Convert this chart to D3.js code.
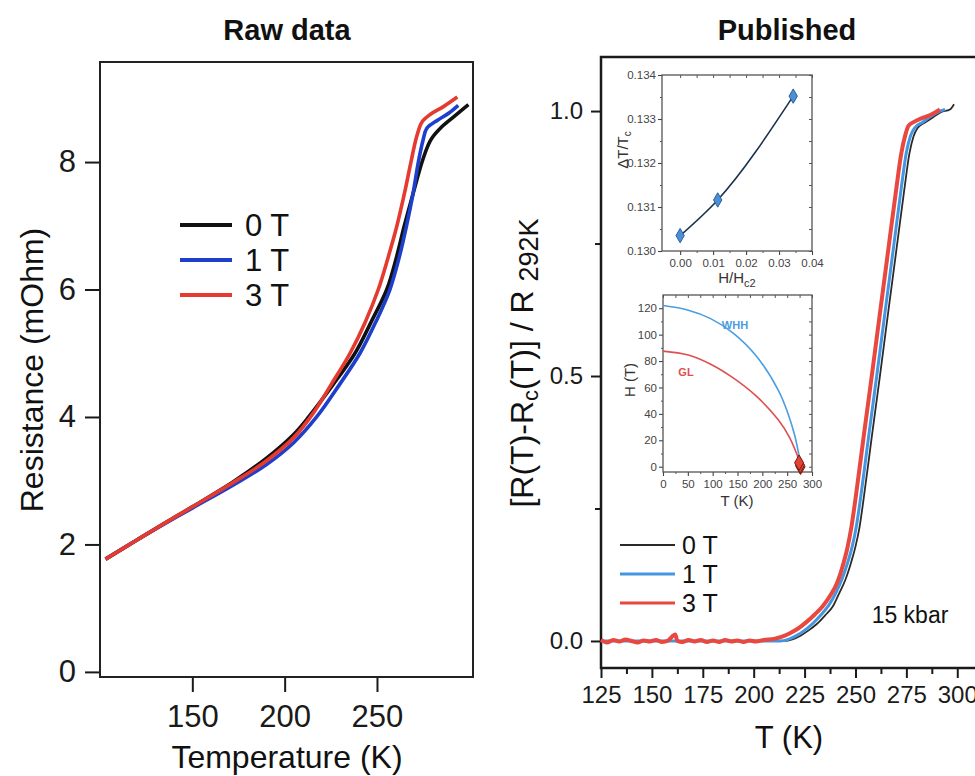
<!DOCTYPE html>
<html>
<head>
<meta charset="utf-8">
<script src="https://cdn.jsdelivr.net/npm/d3@7"></script>
<style>
  html, body { margin: 0; padding: 0; background: #fff; }
  svg { display: block; font-family: "Liberation Sans", Arial, Helvetica, sans-serif; }
</style>
</head>
<body>
<svg id="chart" width="975" height="776"></svg>
<script>
// ─────────────────────────────────────────
// Raw data vs Published: R(T) at 0 / 1 / 3 T
// ─────────────────────────────────────────

// left panel: resistance (mOhm) vs temperature (K)
const raw0T = [[103,1.77],[120,2.07],[136,2.35],[150,2.59],[172,2.98],[190,3.35],[205,3.73],[213,4.0],[226,4.5],[238.1,5.0],[247,5.5],[255.3,6.0],[260.5,6.5],[264.8,7.0],[269.5,7.5],[274.4,8.0],[277.5,8.25],[279.6,8.37],[285,8.55],[292,8.72],[299.5,8.9]];
const raw1T = [[103,1.77],[120,2.07],[136,2.34],[150,2.57],[172,2.93],[190,3.25],[205,3.6],[217.3,4.0],[229.5,4.5],[240.8,5.0],[249.5,5.5],[257,6.0],[262,6.5],[266,7.0],[269.5,7.5],[272.4,8.0],[275,8.35],[277,8.53],[283,8.66],[289,8.77],[294,8.89]];
const raw3T = [[103,1.77],[120,2.07],[136,2.35],[150,2.59],[172,2.97],[190,3.31],[205,3.68],[215.5,4.06],[225,4.5],[235.4,5.0],[243.5,5.48],[250.7,6.0],[256,6.5],[260.8,7.0],[264.8,7.5],[268.4,8.0],[271.5,8.4],[274.4,8.63],[279,8.75],[286,8.87],[293.5,9.02]];
const rawTicksX = [150, 200, 250];
const rawTicksY = [0, 2, 4, 6, 8];

// right panel: normalised resistance vs T (K)
const pub0T = [[125,0],[150,0],[175,0],[200,0],[215,0],[219,0.003],[223,0.01],[227,0.02],[231,0.032],[235,0.048],[239,0.066],[242,0.09],[245,0.115],[248,0.15],[250,0.178],[252,0.215],[254,0.268],[258,0.385],[262,0.5],[266,0.618],[270,0.735],[274,0.852],[276.5,0.92],[278.5,0.952],[280.5,0.968],[284,0.978],[288,0.988],[292,0.998],[296.4,1.003],[298.4,1.013]];
const pub1T = [[125,0],[150,0],[175,0],[200,0],[213,0],[217,0.003],[221,0.01],[225,0.02],[229,0.033],[233,0.049],[237,0.068],[240.5,0.092],[243.5,0.118],[246.5,0.152],[248.5,0.18],[250.5,0.218],[252.5,0.27],[256.5,0.387],[260.5,0.502],[264.5,0.62],[268.5,0.737],[272.5,0.855],[275,0.922],[277,0.953],[279,0.968],[283,0.979],[287,0.99],[291,0.999],[294,1.003]];
const pub3T = [[125,0.002],[128,-0.003],[131,0.002],[134,-0.001],[137,0.003],[140,0],[143,-0.003],[146,0.001],[149,-0.001],[152,0.002],[155,-0.002],[158,0.001],[161.5,0.012],[162.5,0],[165,-0.002],[168,0.002],[171,-0.001],[174,0.002],[177,-0.002],[180,0.001],[183,-0.002],[186,0.002],[189,-0.001],[192,0.001],[195,-0.002],[198,0.001],[201,-0.001],[205,0.002],[210,0.004],[214,0.008],[218,0.015],[222,0.024],[226,0.036],[230,0.05],[234,0.066],[238,0.088],[241,0.11],[244,0.145],[246,0.175],[248,0.215],[250,0.268],[254,0.385],[258,0.5],[262,0.618],[266,0.735],[270,0.852],[272.5,0.92],[274.5,0.955],[276,0.972],[279,0.98],[283,0.987],[287,0.993],[291.5,1.003]];
const pubTicksX = [125, 150, 175, 200, 225, 250, 275, 300];
const pubMinorX = [137.5, 162.5, 187.5, 212.5, 237.5, 262.5, 287.5];
const pubTicksY = [0, 0.5, 1.0];
const pubMinorY = [0.25, 0.75];

// inset 1: ΔT/Tc vs H/Hc2
const widthPts = [[0, 0.13035], [0.0114, 0.13116], [0.0343, 0.13352]];
const in1TicksX = [0, 0.01, 0.02, 0.03, 0.04];
const in1TicksY = [0.130, 0.131, 0.132, 0.133, 0.134];

// inset 2: Hc2 (T) vs T (K)
const whh = [[0,122],[51,118.5],[95,112.3],[142,101],[189,83.3],[232,58],[250,42],[265,24],[276,4]];
const gl = [[0,87.5],[51,84.5],[95,77.7],[142,67],[189,53],[232,35.5],[255,22],[276,3]];
const hc2Pts = [[277,0],[276,1],[274,3]];
const in2TicksX = [0, 50, 100, 150, 200, 250, 300];
const in2TicksY = [0, 20, 40, 60, 80, 100, 120];

const fields = ['0 T', '1 T', '3 T'];
const rawColors = ['#111111', '#1d3fcc', '#e53a2f'];
const pubColors = ['#2a2a2a', '#4596e0', '#e8483f'];

const svg = d3.select('#chart');

// small helper: style an axis group
function styleAxis(g, size, color, width) {
  g.select('.domain').remove();
  g.selectAll('line').attr('stroke', color).attr('stroke-width', width);
  g.selectAll('text').attr('font-size', size).attr('fill', color);
}

// ── Left panel ──────────────────────────
const xL = d3.scaleLinear().domain([100, 302]).range([100, 473]);
const yL = d3.scaleLinear().domain([-0.08, 9.57]).range([677, 62]);

svg.append('text').attr('x', 287).attr('y', 40).attr('text-anchor', 'middle')
  .attr('font-size', 29).attr('font-weight', 'bold').attr('fill', '#111').text('Raw data');

svg.append('g').attr('transform', 'translate(0,677)')
  .call(d3.axisBottom(xL).tickValues(rawTicksX).tickSize(15).tickSizeOuter(0).tickPadding(13))
  .call(g => styleAxis(g, 31, '#1a1a1a', 2));

svg.append('g').attr('transform', 'translate(100,0)')
  .call(d3.axisLeft(yL).tickValues(rawTicksY).tickSize(15).tickSizeOuter(0).tickPadding(9))
  .call(g => styleAxis(g, 31, '#1a1a1a', 2));

svg.append('rect').attr('x', 100).attr('y', 62).attr('width', 373).attr('height', 615)
  .attr('fill', 'none').attr('stroke', '#222').attr('stroke-width', 2);

const lineL = d3.line().x(d => xL(d[0])).y(d => yL(d[1])).curve(d3.curveCatmullRom.alpha(0.5));
[raw0T, raw1T, raw3T].forEach((s, i) => {
  svg.append('path').datum(s).attr('d', lineL).attr('fill', 'none')
    .attr('stroke', rawColors[i]).attr('stroke-width', 3.6).attr('stroke-linejoin', 'round');
});

// legend
fields.forEach((f, i) => {
  const y = 225 + i * 35;
  svg.append('line').attr('x1', 180).attr('x2', 232).attr('y1', y).attr('y2', y)
    .attr('stroke', rawColors[i]).attr('stroke-width', 4);
  svg.append('text').attr('x', 245).attr('y', y + 11).attr('font-size', 31).attr('fill', '#111').text(f);
});

svg.append('text').attr('x', 287).attr('y', 768).attr('text-anchor', 'middle')
  .attr('font-size', 32).attr('fill', '#111').text('Temperature (K)');
svg.append('text').attr('transform', 'translate(43,370) rotate(-90)').attr('text-anchor', 'middle')
  .attr('font-size', 32).attr('fill', '#111').text('Resistance (mOhm)');

// ── Right panel ─────────────────────────
const xR = d3.scaleLinear().domain([125, 312]).range([601, 981.7]);
const yR = d3.scaleLinear().domain([-0.051, 1.102]).range([668, 57]);

svg.append('text').attr('x', 787).attr('y', 40).attr('text-anchor', 'middle')
  .attr('font-size', 29).attr('font-weight', 'bold').attr('fill', '#111').text('Published');

svg.append('g').attr('transform', 'translate(0,668)')
  .call(d3.axisBottom(xR).tickValues(pubTicksX).tickSize(10).tickSizeOuter(0).tickPadding(8))
  .call(g => styleAxis(g, 24, '#1a1a1a', 2));
svg.append('g').attr('transform', 'translate(0,668)')
  .call(d3.axisBottom(xR).tickValues(pubMinorX).tickSize(6).tickFormat(''))
  .call(g => styleAxis(g, 24, '#1a1a1a', 2));

svg.append('g').attr('transform', 'translate(601,0)')
  .call(d3.axisLeft(yR).tickValues(pubTicksY).tickSize(10).tickSizeOuter(0).tickPadding(8).tickFormat(d3.format('.1f')))
  .call(g => styleAxis(g, 24, '#1a1a1a', 2));
svg.append('g').attr('transform', 'translate(601,0)')
  .call(d3.axisLeft(yR).tickValues(pubMinorY).tickSize(6).tickFormat(''))
  .call(g => styleAxis(g, 24, '#1a1a1a', 2));

svg.append('rect').attr('x', 601).attr('y', 57).attr('width', 400).attr('height', 611)
  .attr('fill', 'none').attr('stroke', '#1a1a1a').attr('stroke-width', 2.5);

const lineR = d3.line().x(d => xR(d[0])).y(d => yR(d[1])).curve(d3.curveMonotoneX);
const pubWidths = [1.8, 3, 4];
[pub0T, pub1T, pub3T].forEach((s, i) => {
  svg.append('path').datum(s).attr('d', lineR).attr('fill', 'none')
    .attr('stroke', pubColors[i]).attr('stroke-width', pubWidths[i]).attr('stroke-linejoin', 'round');
});

fields.forEach((f, i) => {
  const y = 545 + i * 29;
  svg.append('line').attr('x1', 620).attr('x2', 675).attr('y1', y).attr('y2', y)
    .attr('stroke', pubColors[i]).attr('stroke-width', i === 0 ? 2 : 3);
  svg.append('text').attr('x', 682).attr('y', y + 9).attr('font-size', 25).attr('fill', '#111').text(f);
});

svg.append('text').attr('x', 910).attr('y', 623).attr('text-anchor', 'middle')
  .attr('font-size', 23).attr('fill', '#111').text('15 kbar');

svg.append('text').attr('x', 789).attr('y', 748).attr('text-anchor', 'middle')
  .attr('font-size', 31).attr('fill', '#111').text('T (K)');

const yLab = svg.append('text').attr('transform', 'translate(533,363) rotate(-90)')
  .attr('text-anchor', 'middle').attr('font-size', 32).attr('fill', '#111');
yLab.append('tspan').text('[R(T)-R');
yLab.append('tspan').attr('font-size', 22).attr('dy', 5).text('c');
yLab.append('tspan').attr('dy', -5).text('(T)] / R ');
yLab.append('tspan').attr('font-size', 27).attr('dy', 5).text('292K');

// ── Inset frames / ticks ────────────────
function insetAxes(x, y, tx, ty, mx, my, fmtX, fmtY) {
  const [x0, x1] = x.range(), [y0, y1] = y.range();
  const grey = '#555';
  svg.append('g').attr('transform', `translate(0,${y0})`)
    .call(d3.axisBottom(x).tickValues(tx).tickSize(4).tickPadding(4).tickFormat(fmtX))
    .call(g => styleAxis(g, 11.5, '#444', 1.1));
  svg.append('g').attr('transform', `translate(0,${y0})`)
    .call(d3.axisBottom(x).tickValues(mx).tickSize(2).tickFormat(''))
    .call(g => styleAxis(g, 11.5, grey, 1));
  svg.append('g').attr('transform', `translate(${x0},0)`)
    .call(d3.axisLeft(y).tickValues(ty).tickSize(4).tickPadding(2).tickFormat(fmtY))
    .call(g => styleAxis(g, 11.5, '#444', 1.1));
  svg.append('g').attr('transform', `translate(${x0},0)`)
    .call(d3.axisLeft(y).tickValues(my).tickSize(2).tickFormat(''))
    .call(g => styleAxis(g, 11.5, grey, 1));
  // mirrored inward ticks on top and right
  svg.append('g').attr('transform', `translate(0,${y1})`)
    .call(d3.axisBottom(x).tickValues(tx.concat(mx)).tickSize(3).tickFormat(''))
    .call(g => styleAxis(g, 11.5, grey, 1));
  svg.append('g').attr('transform', `translate(${x1},0)`)
    .call(d3.axisLeft(y).tickValues(ty.concat(my)).tickSize(3).tickFormat(''))
    .call(g => styleAxis(g, 11.5, grey, 1));
  svg.append('rect').attr('x', x0).attr('y', y1).attr('width', x1 - x0).attr('height', y0 - y1)
    .attr('fill', 'none').attr('stroke', grey).attr('stroke-width', 1.3);
}

// ── Inset 1 ─────────────────────────────
const xI1 = d3.scaleLinear().domain([-0.0055, 0.04]).range([662, 812]);
const yI1 = d3.scaleLinear().domain([0.130, 0.134]).range([251, 75]);
svg.append('rect').attr('x', 662).attr('y', 75).attr('width', 150).attr('height', 176).attr('fill', '#fff');
insetAxes(xI1, yI1, in1TicksX, in1TicksY,
  [0.005, 0.015, 0.025, 0.035], [0.1305, 0.1315, 0.1325, 0.1335],
  d3.format('.2f'), d3.format('.3f'));

svg.append('path').datum(widthPts)
  .attr('d', d3.line().x(d => xI1(d[0])).y(d => yI1(d[1])).curve(d3.curveMonotoneX))
  .attr('fill', 'none').attr('stroke', '#1b3350').attr('stroke-width', 1.6);
svg.selectAll('.pt1').data(widthPts).enter().append('path').attr('class', 'pt1')
  .attr('transform', d => `translate(${xI1(d[0])},${yI1(d[1])})`)
  .attr('d', d3.symbol().type(d3.symbolDiamond).size(60))
  .attr('fill', '#4a8fd8').attr('stroke', '#2a5f9a').attr('stroke-width', 1);

const l1 = svg.append('text').attr('transform', 'translate(628,150) rotate(-90)')
  .attr('text-anchor', 'middle').attr('font-size', 15).attr('fill', '#333');
l1.append('tspan').text('ΔT/T');
l1.append('tspan').attr('font-size', 10).attr('dy', 3).text('c');
const l2 = svg.append('text').attr('x', 737).attr('y', 283)
  .attr('text-anchor', 'middle').attr('font-size', 15).attr('fill', '#333');
l2.append('tspan').text('H/H');
l2.append('tspan').attr('font-size', 11).attr('dy', 4).text('c2');

// ── Inset 2 ─────────────────────────────
const xI2 = d3.scaleLinear().domain([0, 300]).range([663, 812]);
const yI2 = d3.scaleLinear().domain([-4, 130]).range([472, 295]);
svg.append('rect').attr('x', 663).attr('y', 295).attr('width', 149).attr('height', 177).attr('fill', '#fff');
insetAxes(xI2, yI2, in2TicksX, in2TicksY,
  [25, 75, 125, 175, 225, 275], [10, 30, 50, 70, 90, 110],
  d3.format('d'), d3.format('d'));

const lineI2 = d3.line().x(d => xI2(d[0])).y(d => yI2(d[1])).curve(d3.curveCatmullRom.alpha(0.5));
svg.append('path').datum(whh).attr('d', lineI2).attr('fill', 'none')
  .attr('stroke', '#4b9de0').attr('stroke-width', 1.6);
svg.append('path').datum(gl).attr('d', lineI2).attr('fill', 'none')
  .attr('stroke', '#dd5050').attr('stroke-width', 1.6);
svg.selectAll('.pt2').data(hc2Pts).enter().append('path').attr('class', 'pt2')
  .attr('transform', d => `translate(${xI2(d[0])},${yI2(d[1])})`)
  .attr('d', d3.symbol().type(d3.symbolDiamond).size(70))
  .attr('fill', '#e04535').attr('stroke', '#7a1a10').attr('stroke-width', 1);

svg.append('text').attr('x', 735).attr('y', 329).attr('text-anchor', 'middle')
  .attr('font-size', 11).attr('font-weight', 'bold').attr('fill', '#4b9de0').text('WHH');
svg.append('text').attr('x', 686).attr('y', 376).attr('text-anchor', 'middle')
  .attr('font-size', 11).attr('font-weight', 'bold').attr('fill', '#dd5050').text('GL');

svg.append('text').attr('transform', 'translate(635,380) rotate(-90)')
  .attr('text-anchor', 'middle').attr('font-size', 15).attr('fill', '#333').text('H (T)');
svg.append('text').attr('x', 737).attr('y', 506)
  .attr('text-anchor', 'middle').attr('font-size', 15).attr('fill', '#333').text('T (K)');
</script>
</body>
</html>
